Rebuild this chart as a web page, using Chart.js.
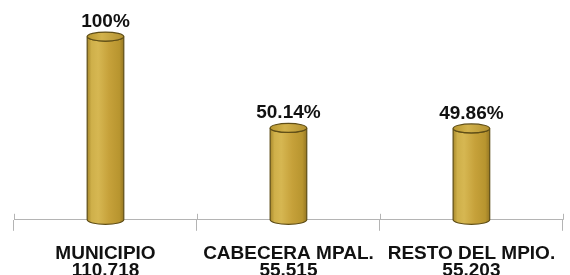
<!DOCTYPE html>
<html>
<head>
<meta charset="utf-8">
<script src="https://cdn.jsdelivr.net/npm/chart.js@4.4.1/dist/chart.umd.min.js"></script>
<style>
html,body{margin:0;padding:0;background:#fff;overflow:hidden;}
#wrap{position:relative;width:570px;height:293px;}
</style>
</head>
<body>
<div id="wrap"><canvas id="c"></canvas></div>
<script>
const categories = ["MUNICIPIO", "CABECERA MPAL.", "RESTO DEL MPIO."];
const population = ["110.718", "55.515", "55.203"];
const percentValues = [100, 50.14, 49.86];
const percentLabels = ["100%", "50.14%", "49.86%"];

const FONT = "'Liberation Sans', Arial, sans-serif";

const cylinderPlugin = {
  id: 'cylinders',
  afterDatasetsDraw(chart) {
    const ctx = chart.ctx;
    const meta = chart.getDatasetMeta(0);
    meta.data.forEach((bar, i) => {
      const w = bar.width, x0 = bar.x - w / 2, x1 = bar.x + w / 2;
      const top = bar.y, base = bar.base;
      const rx = w / 2, ry = 4.5;
      ctx.save();
      const g = ctx.createLinearGradient(x0, 0, x1, 0);
      g.addColorStop(0, '#a98a2c');
      g.addColorStop(0.12, '#cfb04a');
      g.addColorStop(0.3, '#d6b752');
      g.addColorStop(0.6, '#c6a13a');
      g.addColorStop(0.88, '#b8952f');
      g.addColorStop(1, '#977824');
      ctx.beginPath();
      ctx.moveTo(x0, top);
      ctx.lineTo(x0, base);
      ctx.ellipse(bar.x, base, rx, ry, 0, Math.PI, 0, true);
      ctx.lineTo(x1, top);
      ctx.ellipse(bar.x, top, rx, ry, 0, 0, Math.PI, false);
      ctx.closePath();
      ctx.fillStyle = g;
      ctx.fill();
      ctx.lineWidth = 1.2;
      ctx.strokeStyle = '#5f4e17';
      ctx.stroke();
      const g2 = ctx.createLinearGradient(x0, 0, x1, 0);
      g2.addColorStop(0, '#b8972f');
      g2.addColorStop(0.4, '#d2b24c');
      g2.addColorStop(1, '#b39130');
      ctx.beginPath();
      ctx.ellipse(bar.x, top, rx, ry, 0, 0, Math.PI * 2);
      ctx.fillStyle = g2;
      ctx.fill();
      ctx.strokeStyle = '#5f4e17';
      ctx.stroke();
      ctx.fillStyle = '#111';
      ctx.font = "bold 19px " + FONT;
      ctx.textAlign = 'center';
      ctx.textBaseline = 'alphabetic';
      ctx.fillText(percentLabels[i], bar.x, top - ry - 5);
      ctx.restore();
    });
  },
  afterDraw(chart) {
    const xs = chart.scales.x;
    const ctx = chart.ctx;
    const step = xs.getPixelForValue(1) - xs.getPixelForValue(0);
    ctx.save();
    ctx.strokeStyle = '#b4b4b4';
    ctx.lineWidth = 1;
    for (let i = 0; i <= categories.length; i++) {
      const px = Math.round(xs.getPixelForValue(0) - step / 2 + i * step) + 0.5;
      ctx.beginPath();
      ctx.moveTo(px, xs.top - 6);
      ctx.lineTo(px, xs.top);
      ctx.stroke();
    }
    ctx.restore();
  }
};

new Chart(document.getElementById('c'), {
  type: 'bar',
  data: {
    labels: categories.map((c, i) => [c, population[i]]),
    datasets: [{
      data: percentValues,
      backgroundColor: 'rgba(0,0,0,0)',
      borderWidth: 0,
      categoryPercentage: 1,
      barPercentage: 0.2
    }]
  },
  options: {
    responsive: true,
    maintainAspectRatio: false,
    animation: false,
    layout: { padding: { left: 14, right: 5, top: 10, bottom: 0 } },
    plugins: { legend: { display: false }, tooltip: { enabled: false } },
    scales: {
      y: { display: false, min: 0, max: 114.5 },
      x: {
        offset: true,
        grid: { offset: true, drawOnChartArea: false, color: '#b4b4b4', tickLength: 11 },
        border: { color: '#b4b4b4', width: 1 },
        ticks: {
          color: '#111',
          padding: 14,
          maxRotation: 0,
          autoSkip: false,
          font: { family: FONT, size: 19, weight: 'bold', lineHeight: 0.9 }
        }
      }
    }
  },
  plugins: [cylinderPlugin]
});
</script>
</body>
</html>
